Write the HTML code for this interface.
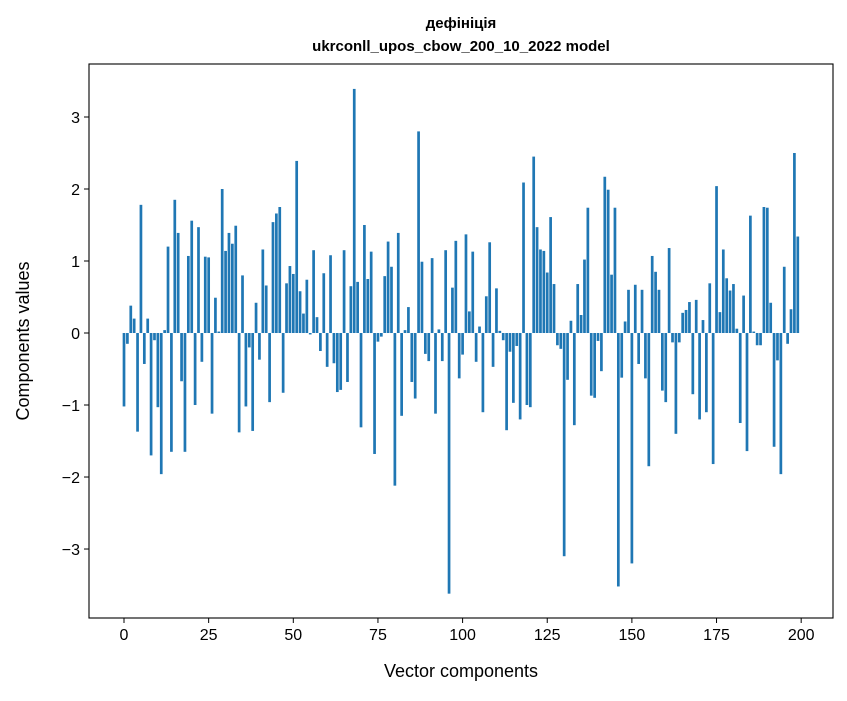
<!DOCTYPE html>
<html><head><meta charset="utf-8"><style>
body{margin:0;background:#fff;font-family:"Liberation Sans","DejaVu Sans",sans-serif;}
</style></head><body>
<svg id="chart" width="847" height="696" xmlns="http://www.w3.org/2000/svg" font-family="Liberation Sans, DejaVu Sans, sans-serif">
<rect width="847" height="696" fill="#fff"/>
<text x="461" y="28" text-anchor="middle" font-size="15" font-weight="bold">дефініція</text>
<text x="461" y="51" text-anchor="middle" font-size="15" font-weight="bold">ukrconll_upos_cbow_200_10_2022 model</text>
<g id="bars"></g>
<g id="axes"></g>
<text x="461" y="677" text-anchor="middle" font-size="18">Vector components</text>
<text transform="translate(29,341) rotate(-90)" text-anchor="middle" font-size="18">Components values</text>
</svg>
<script>
const values = [-1.02,-0.15,0.38,0.2,-1.37,1.78,-0.43,0.2,-1.7,-0.1,
-1.03,-1.96,0.04,1.2,-1.65,1.85,1.39,-0.67,-1.65,1.07,
1.56,-1.0,1.47,-0.4,1.06,1.05,-1.12,0.49,0.02,2.0,
1.14,1.39,1.24,1.49,-1.38,0.8,-1.02,-0.2,-1.36,0.42,
-0.37,1.16,0.66,-0.96,1.54,1.66,1.75,-0.83,0.69,0.93,
0.82,2.39,0.58,0.27,0.74,-0.02,1.15,0.22,-0.25,0.83,
-0.47,1.08,-0.42,-0.82,-0.79,1.15,-0.68,0.65,3.39,0.71,
-1.31,1.5,0.75,1.13,-1.68,-0.12,-0.05,0.79,1.27,0.92,
-2.12,1.39,-1.15,0.04,0.36,-0.68,-0.91,2.8,0.99,-0.29,
-0.39,1.04,-1.12,0.05,-0.39,1.15,-3.62,0.63,1.28,-0.63,
-0.3,1.37,0.3,1.13,-0.4,0.09,-1.1,0.51,1.26,-0.47,
0.62,0.03,-0.1,-1.35,-0.26,-0.97,-0.18,-1.2,2.09,-1.0,
-1.03,2.45,1.47,1.16,1.14,0.84,1.61,0.68,-0.17,-0.22,
-3.1,-0.65,0.17,-1.28,0.68,0.25,1.02,1.74,-0.87,-0.9,
-0.11,-0.53,2.17,1.99,0.81,1.74,-3.52,-0.62,0.16,0.6,
-3.2,0.67,-0.43,0.6,-0.63,-1.85,1.07,0.85,0.6,-0.8,
-0.96,1.18,-0.13,-1.4,-0.13,0.28,0.32,0.43,-0.85,0.46,
-1.2,0.18,-1.1,0.69,-1.82,2.04,0.29,1.16,0.76,0.59,
0.68,0.06,-1.25,0.52,-1.64,1.63,0.02,-0.17,-0.17,1.75,
1.74,0.42,-1.58,-0.38,-1.96,0.92,-0.15,0.33,2.5,1.34];
const xTicks = [0,25,50,75,100,125,150,175,200];
const yTicks = [-3,-2,-1,0,1,2,3];
const NS="http://www.w3.org/2000/svg";
const L=89,R=833,T=64,B=618;
const xMin=-10.34,xMax=209.4,yMin=-3.958,yMax=3.736;
const xs=v=>L+(v-xMin)/(xMax-xMin)*(R-L);
const ys=v=>B-(v-yMin)/(yMax-yMin)*(B-T);
const bars=document.getElementById('bars');
values.forEach((v,i)=>{
  const r=document.createElementNS(NS,'rect');
  const x0=xs(i-0.4),x1=xs(i+0.4);
  r.setAttribute('x',x0);r.setAttribute('width',x1-x0);
  r.setAttribute('y',Math.min(ys(v),ys(0)));
  r.setAttribute('height',Math.abs(ys(v)-ys(0)));
  r.setAttribute('fill','#1f77b4');
  
  
  bars.appendChild(r);
});
const ax=document.getElementById('axes');
let h='<rect x="'+L+'" y="'+T+'" width="'+(R-L)+'" height="'+(B-T)+'" fill="none" stroke="#000" stroke-width="1.1"/>';
xTicks.forEach(t=>{const x=xs(t);
 h+='<line x1="'+x+'" y1="'+B+'" x2="'+x+'" y2="'+(B+5)+'" stroke="#000"/>';
 h+='<text x="'+x+'" y="'+(B+22)+'" text-anchor="middle" font-size="16">'+t+'</text>';});
yTicks.forEach(t=>{const y=ys(t);
 h+='<line x1="'+(L-5)+'" y1="'+y+'" x2="'+L+'" y2="'+y+'" stroke="#000"/>';
 h+='<text x="'+(L-9)+'" y="'+(y+6)+'" text-anchor="end" font-size="16">'+(t<0?'\u2212'+(-t):t)+'</text>';});
ax.innerHTML=h;
</script>
</body></html>
